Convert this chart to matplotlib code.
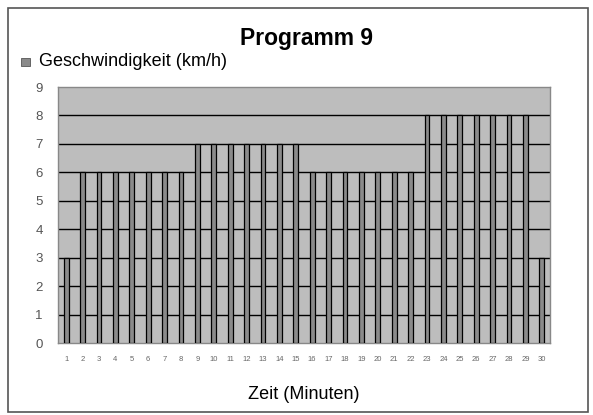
import matplotlib
matplotlib.use("Agg")
import matplotlib.pyplot as plt
from matplotlib.patches import Rectangle

plt.rcParams['font.family'] = ['Liberation Sans', 'DejaVu Sans']

# Daten: Geschwindigkeit pro Minute
minutes = [str(m) for m in range(1, 31)]
speed = [3, 6, 6, 6, 6, 6, 6, 6,
         7, 7, 7, 7, 7, 7, 7,
         6, 6, 6, 6, 6, 6, 6,
         8, 8, 8, 8, 8, 8, 8,
         3]
y_ticks = list(range(0, 10))

fig = plt.figure(figsize=(5.93, 4.15), dpi=100)

# äußerer Rahmen
fig.patches.append(Rectangle((8 / 593, 3 / 415), 580 / 593, 404 / 415,
                             transform=fig.transFigure, fill=False,
                             edgecolor='#555555', linewidth=1.2))

ax = fig.add_axes([58 / 593, 72 / 415, 492 / 593, 256 / 415])
ax.set_facecolor('#bdbdbd')

x = list(range(len(minutes)))
ax.bar(x, speed, width=0.3, color='#8a8a8a', edgecolor='black',
       linewidth=0.9, zorder=3)

ax.set_xlim(-0.5, len(minutes) - 0.5)
ax.set_ylim(0, 9)
ax.set_yticks(y_ticks)
ax.set_yticklabels([str(t) for t in y_ticks], fontsize=9.5, color='#555555')
ax.set_xticks(x)
ax.set_xticklabels(minutes, fontsize=5.5, color='#666666')
ax.tick_params(axis='both', length=0)
ax.tick_params(axis='y', pad=11)
ax.tick_params(axis='x', pad=9)

for t in y_ticks[1:-1]:
    ax.axhline(t, color='black', linewidth=1.0, zorder=2)

for s in ax.spines.values():
    s.set_color('#888888')
    s.set_linewidth(1.0)

ax.set_xlabel('Zeit (Minuten)', fontsize=13, labelpad=17)

fig.text(307 / 593, 1 - 38 / 415, 'Programm 9', ha='center', va='center',
         fontsize=16.5, fontweight='bold')

# Legende
fig.patches.append(Rectangle((21 / 593, 1 - 66 / 415), 9 / 593, 8 / 415,
                             transform=fig.transFigure, facecolor='#8a8a8a',
                             edgecolor='#555555', linewidth=0.6))
fig.text(39 / 593, 1 - 62 / 415, 'Geschwindigkeit (km/h)', ha='left',
         va='center', fontsize=13)

fig.savefig('out.png', dpi=100)
